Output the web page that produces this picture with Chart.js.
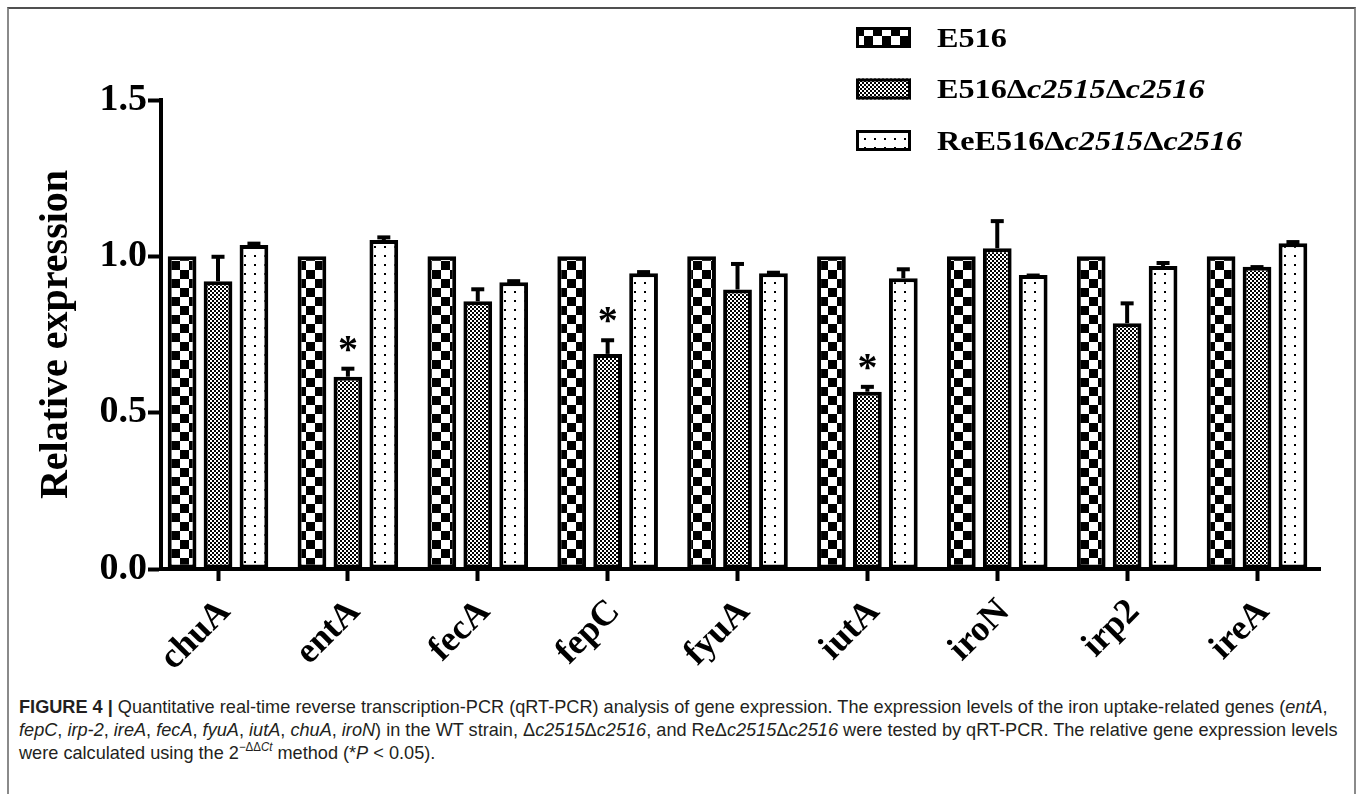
<!DOCTYPE html>
<html>
<head>
<meta charset="utf-8">
<script src="https://cdn.jsdelivr.net/npm/chart.js@4.4.1/dist/chart.umd.min.js"></script>
<style>
html,body{margin:0;padding:0;background:#fff;overflow:hidden;}
body{width:1358px;height:794px;position:relative;}
#frame{position:absolute;left:7px;top:7px;width:1349px;height:900px;box-sizing:border-box;border:2px solid #8a8a8a;border-top-color:#505050;}
#wrap{position:absolute;left:0;top:0;width:1358px;height:680px;}
#caption{position:absolute;left:19px;top:695px;font-family:'Liberation Sans Narrow','Liberation Sans',sans-serif;font-size:19px;line-height:23px;color:#231f20;}
.line{white-space:nowrap;transform-origin:0 50%;}
sup{font-size:12px;line-height:0;position:relative;top:-1px;}
</style>
</head>
<body>
<div id="frame"></div>
<div id="wrap"><canvas id="c" width="1358" height="680"></canvas></div>
<div id="caption">
<div class="line"><b>FIGURE 4 |</b> Quantitative real-time reverse transcription-PCR (qRT-PCR) analysis of gene expression. The expression levels of the iron uptake-related genes (<i>entA</i>,</div>
<div class="line"><i>fepC</i>, <i>irp-2</i>, <i>ireA</i>, <i>fecA</i>, <i>fyuA</i>, <i>iutA</i>, <i>chuA</i>, <i>iroN</i>) in the WT strain, Δ<i>c2515</i>Δ<i>c2516</i>, and ReΔ<i>c2515</i>Δ<i>c2516</i> were tested by qRT-PCR. The relative gene expression levels</div>
<div class="line">were calculated using the 2<sup>−ΔΔ<i>Ct</i></sup> method (*<i>P</i> &lt; 0.05).</div>
</div>
<script>
// ---- data ----
const CATEGORIES = ['chuA', 'entA', 'fecA', 'fepC', 'fyuA', 'iutA', 'iroN', 'irp2', 'ireA'];
const SERIES_NAMES = ['E516', 'E516Δc2515Δc2516', 'ReE516Δc2515Δc2516'];
const SERIES_LABEL_PARTS = [
  [['E516', false]],
  [['E516Δ', false], ['c2515', true], ['Δ', false], ['c2516', true]],
  [['ReE516Δ', false], ['c2515', true], ['Δ', false], ['c2516', true]]
];
const E516_VALUES = [1.00, 1.00, 1.00, 1.00, 1.00, 1.00, 1.00, 1.00, 1.00];
const E516_ERRORS = [0, 0, 0, 0, 0, 0, 0, 0, 0];
const MUT_VALUES = [0.920, 0.615, 0.856, 0.688, 0.894, 0.567, 1.026, 0.786, 0.967];
const MUT_ERRORS = [0.085, 0.032, 0.045, 0.050, 0.088, 0.022, 0.093, 0.070, 0.005];
const RE_VALUES = [1.036, 1.052, 0.917, 0.946, 0.946, 0.930, 0.940, 0.969, 1.042];
const RE_ERRORS = [0.011, 0.015, 0.010, 0.010, 0.008, 0.035, 0.005, 0.016, 0.010];
const MUT_SIGNIFICANCE = ['', '*', '', '*', '', '*', '', '', ''];
const Y_TICKS = [0, 0.5, 1.0, 1.5];
const Y_TITLE = 'Relative expression';

// ---- fill patterns ----
function makePattern(w, h, draw) {
  const c = document.createElement('canvas');
  c.width = w; c.height = h;
  const g = c.getContext('2d');
  g.fillStyle = '#fff'; g.fillRect(0, 0, w, h);
  g.fillStyle = '#000';
  draw(g);
  return document.getElementById('c').getContext('2d').createPattern(c, 'repeat');
}
const PAT_BIG = makePattern(18, 18, g => { g.fillRect(0, 0, 9, 9); g.fillRect(9, 9, 9, 9); });
const PAT_FINE = makePattern(4, 4, g => { g.fillRect(0, 0, 2, 2); g.fillRect(2, 2, 2, 2); });
const PAT_DOTS = makePattern(10, 9, g => { g.fillRect(4, 3, 2, 2); });

function series(i, values, errors, pattern, sig) {
  return {
    label: SERIES_NAMES[i],
    data: values.map((v, k) => ({x: k, y: v})),
    errors: errors,
    sig: sig || null,
    backgroundColor: pattern,
    borderColor: '#000',
    borderWidth: 4,
    borderSkipped: false,
    categoryPercentage: 0.83,
    barPercentage: 0.8
  };
}

const errorBarPlugin = {
  id: 'errorBars',
  afterDatasetsDraw(chart) {
    const ctx = chart.ctx;
    const ys = chart.scales.y;
    chart.data.datasets.forEach((ds, di) => {
      const meta = chart.getDatasetMeta(di);
      meta.data.forEach((bar, i) => {
        const e = ds.errors[i];
        const v = ds.data[i].y;
        const yTop = ys.getPixelForValue(v + e);
        ctx.save();
        ctx.strokeStyle = '#000';
        ctx.fillStyle = '#000';
        if (e > 0) {
          ctx.lineWidth = 4;
          ctx.beginPath();
          ctx.moveTo(bar.x, bar.y);
          ctx.lineTo(bar.x, yTop + 2);
          ctx.stroke();
          ctx.beginPath();
          ctx.moveTo(bar.x - 6.5, yTop + 2);
          ctx.lineTo(bar.x + 6.5, yTop + 2);
          ctx.stroke();
        }
        if (ds.sig && ds.sig[i]) {
          ctx.font = 'bold 40px "Liberation Serif"';
          ctx.textAlign = 'center';
          ctx.textBaseline = 'alphabetic';
          ctx.fillText(ds.sig[i], bar.x, yTop - 5);
        }
        ctx.restore();
      });
    });
  }
};

const legendPlugin = {
  id: 'patternLegend',
  afterDraw(chart) {
    const ctx = chart.ctx;
    chart.data.datasets.forEach((ds, i) => {
      const cy = 37.5 + i * 51.5;
      ctx.save();
      ctx.fillStyle = ds.backgroundColor;
      ctx.fillRect(856, cy - 10.5, 55, 21);
      ctx.strokeStyle = '#000';
      ctx.lineWidth = 3;
      ctx.strokeRect(857.5, cy - 9, 52, 18);
      ctx.translate(937, cy);
      ctx.scale(1.15, 1);
      ctx.fillStyle = '#000';
      ctx.textBaseline = 'middle';
      ctx.textAlign = 'left';
      let x = 0;
      SERIES_LABEL_PARTS[i].forEach(([txt, it]) => {
        ctx.font = (it ? 'italic ' : '') + 'bold 28px "Liberation Serif"';
        ctx.fillText(txt, x, 2);
        x += ctx.measureText(txt).width;
      });
      ctx.restore();
    });
  }
};

const axisCommon = {
  grid: {display: true, offset: false, drawOnChartArea: false, drawTicks: true, tickLength: 12, tickWidth: 4, tickColor: '#000'},
  border: {display: true, color: '#000', width: 4}
};

new Chart(document.getElementById('c'), {
  type: 'bar',
  data: {
    datasets: [
      series(0, E516_VALUES, E516_ERRORS, PAT_BIG),
      series(1, MUT_VALUES, MUT_ERRORS, PAT_FINE, MUT_SIGNIFICANCE),
      series(2, RE_VALUES, RE_ERRORS, PAT_DOTS)
    ]
  },
  options: {
    responsive: false,
    animation: false,
    layout: {padding: {top: 100, right: 38, left: 0, bottom: 0}},
    plugins: {legend: {display: false}, tooltip: {enabled: false}},
    scales: {
      x: {
        type: 'linear',
        offset: false,
        min: -0.439,
        max: 8.485,
        ...axisCommon,
        afterBuildTicks: s => { s.ticks = CATEGORIES.map((_, i) => ({value: i})); },
        afterFit: s => { s.height = 111; },
        ticks: {
          autoSkip: false, minRotation: 45, maxRotation: 45, padding: 10, labelOffset: 7,
          color: '#000',
          font: {family: '"Liberation Serif"', size: 36, weight: 'bold'},
          callback: v => CATEGORIES[v] !== undefined ? CATEGORIES[v] : ''
        }
      },
      y: {
        min: 0, max: 1.5,
        ...axisCommon,
        grid: {...axisCommon.grid, tickLength: 13},
        afterBuildTicks: s => { s.ticks = Y_TICKS.map(v => ({value: v})); },
        afterFit: s => { s.width = 161; },
        ticks: {
          padding: 1, color: '#000',
          font: {family: '"Liberation Serif"', size: 38, weight: 'bold'},
          callback: v => Number(v).toFixed(1)
        },
        title: {
          display: true, text: Y_TITLE, color: '#000',
          font: {family: '"Liberation Serif"', size: 40, weight: 'bold'},
          padding: {top: 33, bottom: 0}
        }
      }
    }
  },
  plugins: [errorBarPlugin, legendPlugin]
});

// fit caption lines to the reference width
(function () {
  const lines = document.querySelectorAll('#caption .line');
  const w = lines[0].scrollWidth;
  const s = 1319 / w;
  lines.forEach(l => { l.style.transform = 'scaleX(' + s + ')'; });
})();
</script>
</body>
</html>
